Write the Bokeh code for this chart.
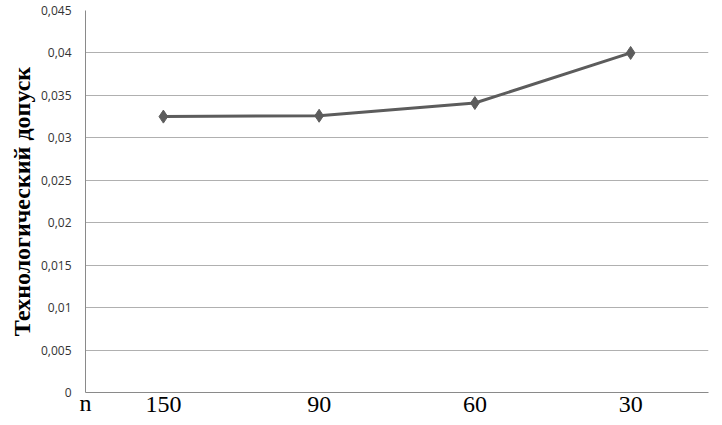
from bokeh.plotting import figure
from bokeh.models import FixedTicker, CustomJSTickFormatter, Range1d, ColumnDataSource
from bokeh.embed import file_html
from bokeh.resources import INLINE

categories = ["150", "90", "60", "30"]
values = [0.0325, 0.0326, 0.0341, 0.0400]
y_ticks = [0, 0.005, 0.01, 0.015, 0.02, 0.025, 0.03, 0.035, 0.04, 0.045]
y_label = "Технологический допуск"
x_label = "n"

src = ColumnDataSource(dict(x=categories, y=values))

p = figure(x_range=categories, y_range=Range1d(0, 0.045),
           width=716, height=425, output_backend="svg", toolbar_location=None,
           min_border_left=85, min_border_top=10, min_border_right=8, min_border_bottom=33)
p.outline_line_color = None
p.background_fill_color = "white"

p.line("x", "y", source=src, line_color="#5c5c5c", line_width=3)
p.scatter("x", "y", source=src, marker="diamond", size=13, fill_color="#5c5c5c", line_color="#5c5c5c")

p.yaxis.ticker = FixedTicker(ticks=y_ticks)
p.yaxis.formatter = CustomJSTickFormatter(code="""
let s = tick.toFixed(3).replace(/0+$/, '').replace(/\\.$/, '');
return s.replace('.', ',');
""")
p.yaxis.axis_label = y_label
p.yaxis.axis_label_text_font = "Liberation Serif"
p.yaxis.axis_label_text_font_style = "bold"
p.yaxis.axis_label_text_font_size = "24px"
p.yaxis.axis_label_text_color = "black"
p.yaxis.axis_label_standoff = 3
p.yaxis.major_label_text_font = "Open Sans"
p.yaxis.major_label_text_font_size = "12px"
p.yaxis.major_label_text_color = "#333333"
p.yaxis.major_label_standoff = 14
p.yaxis.major_tick_line_color = None
p.yaxis.major_tick_out = 0
p.yaxis.minor_tick_line_color = None
p.yaxis.minor_tick_out = 0
p.yaxis.axis_line_color = "#8a8a8a"

p.xaxis.major_label_text_font = "Liberation Serif"
p.xaxis.major_label_text_font_size = "24px"
p.xaxis.major_label_text_color = "black"
p.xaxis.major_label_standoff = 4
p.xaxis.major_tick_line_color = None
p.xaxis.major_tick_out = 0
p.xaxis.axis_line_color = "#8a8a8a"
p.xaxis.axis_label = x_label
p.xaxis.axis_label_align = "start"
p.xaxis.axis_label_standoff = -25
p.xaxis.axis_label_text_font = "Liberation Serif"
p.xaxis.axis_label_text_font_style = "normal"
p.xaxis.axis_label_text_font_size = "24px"
p.xaxis.axis_label_text_color = "black"

p.xgrid.grid_line_color = None
p.ygrid.grid_line_color = "#b0b0b0"
p.ygrid.grid_line_width = 1

open("out.html", "w").write(file_html(p, INLINE))
